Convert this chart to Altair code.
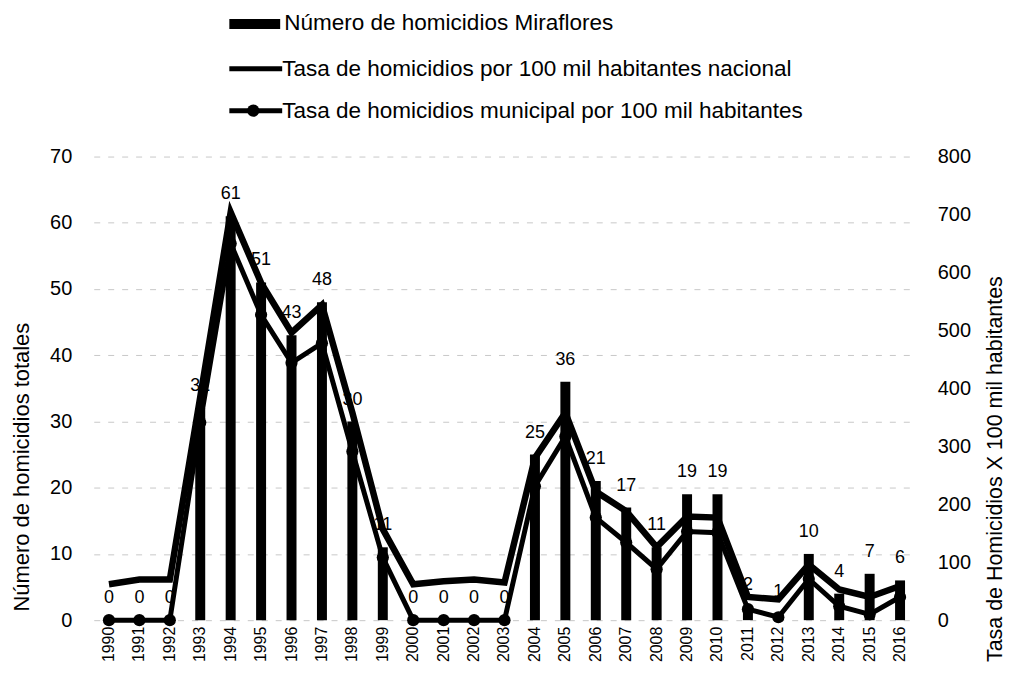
import altair as alt
import pandas as pd

years = ["1990", "1991", "1992", "1993", "1994", "1995", "1996", "1997", "1998",
         "1999", "2000", "2001", "2002", "2003", "2004", "2005", "2006", "2007",
         "2008", "2009", "2010", "2011", "2012", "2013", "2014", "2015", "2016"]
homicidios = [0, 0, 0, 32, 61, 51, 43, 48, 30, 11, 0, 0, 0, 0, 25, 36, 21, 17,
              11, 19, 19, 2, 1, 10, 4, 7, 6]
tasa_nacional = [62, 70, 70, 385, 704, 582, 496, 544, 358, 157, 62, 67, 70, 65,
                 280, 358, 222, 188, 126, 179, 177, 40, 36, 96, 53, 40, 59]
tasa_municipal = [0, 0, 0, 341, 650, 527, 444, 478, 291, 108, 0, 0, 0, 0,
                  231, 317, 177, 134, 88, 153, 151, 19, 5, 71, 24, 10, 40]

legend_labels = ["Número de homicidios Miraflores",
                 "Tasa de homicidios por 100 mil habitantes nacional",
                 "Tasa de homicidios municipal por 100 mil habitantes"]
left_title = "Número de homicidios totales"
right_title = "Tasa de Homicidios X 100 mil habitantes"
left_ticks = [0, 10, 20, 30, 40, 50, 60, 70]
right_ticks = [0, 100, 200, 300, 400, 500, 600, 700, 800]

FONT = "Liberation Sans"

df = pd.DataFrame({"year": years, "count": homicidios,
                   "nat": tasa_nacional, "mun": tasa_municipal})

x_enc = alt.X("year:O", title=None, sort=years,
              scale=alt.Scale(paddingInner=0, paddingOuter=0),
              axis=alt.Axis(labelAngle=270, labelFontSize=16, labelPadding=6,
                            ticks=False, domain=False, labelColor="black"))

base = alt.Chart(df)

y_left = alt.Y("count:Q", scale=alt.Scale(domain=[0, 70]),
               axis=alt.Axis(orient="left", values=left_ticks, title=left_title,
                             ticks=False, domain=False, grid=True,
                             gridColor="#c8c8c8", gridDash=[6, 8], gridWidth=1,
                             labelFontSize=20, labelPadding=22, labelColor="black",
                             titleFontSize=22, titleFontWeight="normal",
                             titleColor="black", titleAngle=270,
                             titleX=-72, titleY=311, titleBaseline="middle"))

bars = base.mark_bar(color="black", size=10).encode(x=x_enc, y=y_left)
bar_labels = base.mark_text(dy=-22, fontSize=18, baseline="middle",
                            color="black").encode(
    x=x_enc, y=alt.Y("count:Q"), text=alt.Text("count:Q"))

right_axis = alt.Axis(orient="right", values=right_ticks, title=right_title,
                      ticks=False, domain=False, grid=False,
                      labelFontSize=20, labelPadding=22, labelColor="black",
                      titleFontSize=21.5, titleFontWeight="normal",
                      titleColor="black", titleAngle=270,
                      titleX=80, titleY=313, titleBaseline="middle")

nat_line = base.mark_line(color="black", strokeWidth=6.5).encode(
    x=x_enc, y=alt.Y("nat:Q", scale=alt.Scale(domain=[0, 800]), axis=right_axis))
mun_line = base.mark_line(color="black", strokeWidth=5,
                          point=alt.OverlayMarkDef(filled=True, size=150,
                                                   color="black")).encode(
    x=x_enc, y=alt.Y("mun:Q", scale=alt.Scale(domain=[0, 800]), axis=right_axis))

one = pd.DataFrame({"k": [0]})
leg = alt.Chart(one)
leg_bar = leg.mark_rect(color="black").encode(
    x=alt.value(136), x2=alt.value(187), y=alt.value(-138), y2=alt.value(-128))
leg_nat = leg.mark_rule(color="black", strokeWidth=5).encode(
    x=alt.value(136), x2=alt.value(189), y=alt.value(-88))
leg_mun = leg.mark_rule(color="black", strokeWidth=5).encode(
    x=alt.value(136), x2=alt.value(189), y=alt.value(-46))
leg_pt = leg.mark_point(filled=True, size=150, color="black", opacity=1).encode(
    x=alt.value(160), y=alt.value(-46))
leg_t1 = leg.mark_text(align="left", baseline="middle", fontSize=22.6,
                       color="black").encode(
    x=alt.value(191), y=alt.value(-134), text=alt.value(legend_labels[0]))
leg_t2 = leg.mark_text(align="left", baseline="middle", fontSize=22.6,
                       color="black").encode(
    x=alt.value(189), y=alt.value(-88), text=alt.value(legend_labels[1]))
leg_t3 = leg.mark_text(align="left", baseline="middle", fontSize=22.6,
                       color="black").encode(
    x=alt.value(189), y=alt.value(-46), text=alt.value(legend_labels[2]))

chart = alt.layer(
    alt.layer(bars, bar_labels),
    alt.layer(nat_line, mun_line),
    leg_bar, leg_nat, leg_mun, leg_pt, leg_t1, leg_t2, leg_t3,
).resolve_scale(y="independent").properties(
    width=824, height=465,
    padding={"left": 86, "top": 148, "right": 92, "bottom": 51},
    autosize=alt.AutoSizeParams(type="none"),
).configure(font=FONT).configure_view(stroke=None)

chart.save("out.html", embed_options={"renderer": "svg", "actions": False})
